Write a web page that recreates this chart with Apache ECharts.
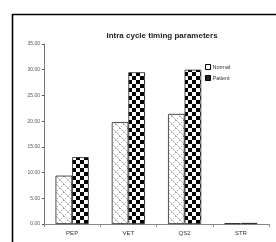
<!DOCTYPE html>
<html>
<head>
<meta charset="utf-8">
<script src="https://cdn.jsdelivr.net/npm/echarts@6/dist/echarts.min.js"></script>
<style>
  html, body { margin: 0; padding: 0; background: #fff; }
  #chart { width: 276px; height: 242px; }
</style>
</head>
<body>
<div id="chart"></div>
<script>
// data
var categories = ['PEP', 'VET', 'QS2', 'STR'];
var normal = [9.4, 19.8, 21.4, 0.15];
var patient = [13.0, 29.5, 30.0, 0.2];

var FONT = '"Liberation Sans Narrow", "Liberation Sans", sans-serif';

// fill patterns like the old excel ones
function checker() {
  var c = document.createElement('canvas');
  c.width = 8; c.height = 8;
  var g = c.getContext('2d');
  g.fillStyle = '#fff'; g.fillRect(0, 0, 8, 8);
  g.fillStyle = '#000';
  g.fillRect(0, 0, 4, 4);
  g.fillRect(4, 4, 4, 4);
  return c;
}
function zigzag() {
  var c = document.createElement('canvas');
  c.width = 8; c.height = 8;
  var g = c.getContext('2d');
  g.fillStyle = '#fff'; g.fillRect(0, 0, 8, 8);
  g.fillStyle = '#b4b4b4';
  for (var i = 0; i < 8; i += 1) {
    g.fillRect(i, i, 1, 1);
    if (i % 2 === 0) g.fillRect(7 - i, i, 1, 1);
  }
  return c;
}

var chart = echarts.init(document.getElementById('chart'), null, { renderer: 'canvas' });

var option = {
  backgroundColor: '#fff',
  animation: false,
  title: {
    text: 'Intra cycle timing parameters',
    left: 157, top: 27,
    textAlign: 'center',
    textStyle: { fontFamily: FONT, fontSize: 8, fontWeight: 'bold', color: '#222' }
  },
  legend: {
    orient: 'vertical',
    left: 200, top: 59,
    itemWidth: 5, itemHeight: 5, itemGap: 5,
    icon: 'rect',
    textStyle: { fontFamily: FONT, fontSize: 5.5, color: '#333', padding: [0, 0, 0, -3] },
    data: [
      { name: 'Normal', itemStyle: { color: '#fff', borderColor: '#000', borderWidth: 1 } },
      { name: 'Patient', itemStyle: { color: '#222', borderColor: '#000', borderWidth: 1 } }
    ]
  },
  grid: { left: 44, right: 7, top: 44, bottom: 18 },
  xAxis: {
    type: 'category',
    data: categories,
    axisLine: { lineStyle: { color: '#888', width: 1 } },
    axisTick: { show: true, length: 3, lineStyle: { color: '#888' } },
    axisLabel: { fontFamily: FONT, fontSize: 6, color: '#333', margin: 6 }
  },
  yAxis: {
    type: 'value',
    min: 0, max: 35, interval: 5,
    axisLine: { show: true, lineStyle: { color: '#777', width: 1 } },
    axisTick: { show: true, length: 2, lineStyle: { color: '#555' } },
    splitLine: { show: false },
    axisLabel: {
      fontFamily: FONT, fontSize: 5, color: '#555', margin: 4,
      formatter: function (v) { return v.toFixed(2); }
    }
  },
  series: [
    {
      name: 'Normal', type: 'bar', data: normal,
      barGap: '0%', barCategoryGap: '41%',
      itemStyle: { color: { image: zigzag(), repeat: 'repeat' }, borderColor: '#222', borderWidth: 0.8 }
    },
    {
      name: 'Patient', type: 'bar', data: patient,
      itemStyle: { color: { image: checker(), repeat: 'repeat' }, borderColor: '#222', borderWidth: 0.8 }
    }
  ],
  graphic: [
    { type: 'line', shape: { x1: 12.5, y1: 14, x2: 12.5, y2: 242 }, style: { stroke: '#000', lineWidth: 1.6 } },
    { type: 'line', shape: { x1: 12, y1: 14.5, x2: 276, y2: 14.5 }, style: { stroke: '#000', lineWidth: 1.6 } }
  ]
};

chart.setOption(option);
</script>
</body>
</html>
